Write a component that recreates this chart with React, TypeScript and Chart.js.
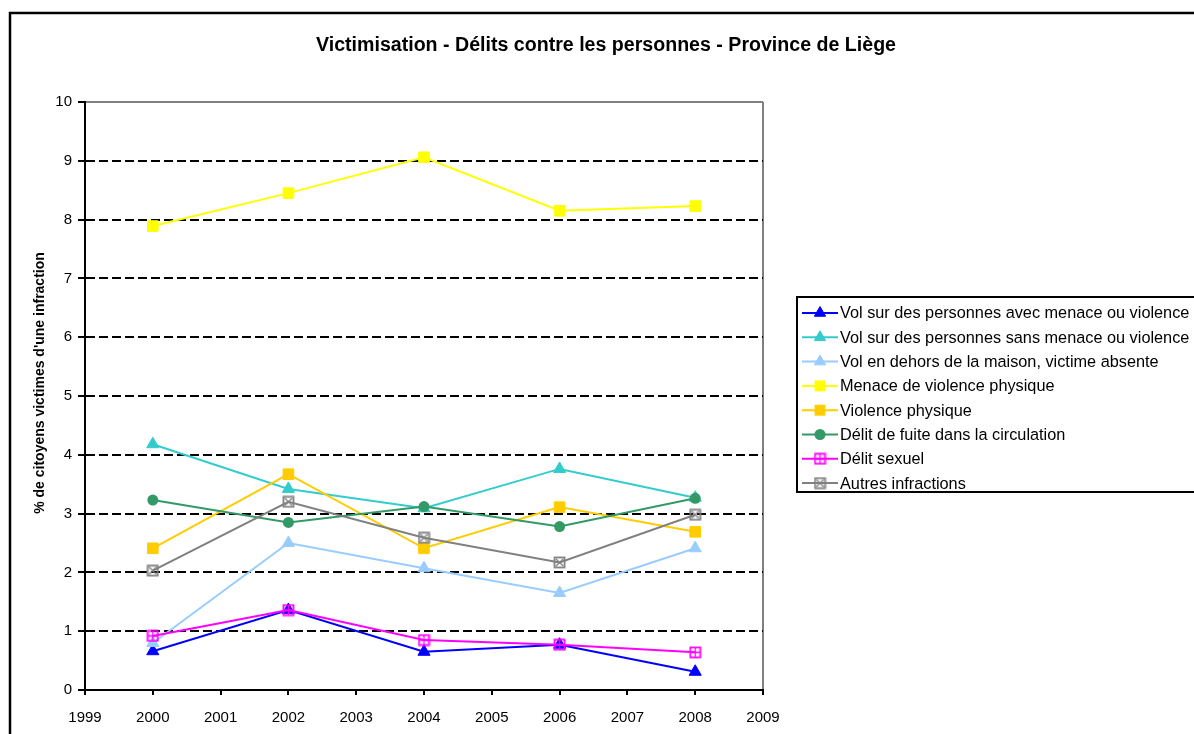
import React, { useEffect, useRef } from 'react';
import { Chart, registerables } from 'chart.js';

Chart.register(...registerables);

const years = [2000, 2002, 2004, 2006, 2008];
const volAvecMenace = [0.66, 1.36, 0.65, 0.77, 0.31];
const volSansMenace = [4.18, 3.42, 3.09, 3.76, 3.27];
const volDehors = [0.8, 2.5, 2.07, 1.65, 2.41];
const menaceViolence = [7.89, 8.45, 9.06, 8.15, 8.23];
const violencePhysique = [2.41, 3.67, 2.41, 3.11, 2.69];
const deliteFuite = [3.23, 2.85, 3.12, 2.78, 3.26];
const deliteSexuel = [0.92, 1.36, 0.85, 0.77, 0.64];
const autresInfractions = [2.03, 3.2, 2.59, 2.17, 2.98];

const seriesLabels = [
  'Vol sur des personnes avec menace ou violence',
  'Vol sur des personnes sans menace ou violence',
  'Vol en dehors de la maison, victime absente',
  'Menace de violence physique',
  'Violence physique',
  'Délit de fuite dans la circulation',
  'Délit sexuel',
  'Autres infractions',
];
const seriesValues = [
  volAvecMenace,
  volSansMenace,
  volDehors,
  menaceViolence,
  violencePhysique,
  deliteFuite,
  deliteSexuel,
  autresInfractions,
];
const seriesColors = ['#0000FF', '#33CCCC', '#99CCFF', '#FFFF00', '#FFCC00', '#339966', '#FF00FF', '#808080'];
const seriesMarkers = ['triangle', 'triangle', 'triangle', 'rect', 'rect', 'circle', 'squarePlus', 'squareX'];

const TITLE = 'Victimisation - Délits contre les personnes - Province de Liège';
const Y_TITLE = "% de citoyens victimes d'une infraction";
const X_MIN = 1999;
const X_MAX = 2009;
const Y_MIN = 0;
const Y_MAX = 10;

const FONT = '"Liberation Sans", Arial, sans-serif';

function makeHollowMarker(color: string, kind: 'plus' | 'x'): HTMLCanvasElement {
  const c = document.createElement('canvas');
  c.width = 13;
  c.height = 13;
  const g = c.getContext('2d')!;
  g.strokeStyle = color;
  g.lineWidth = 1.8;
  g.strokeRect(1.5, 1.5, 10, 10);
  g.lineWidth = 1.3;
  g.beginPath();
  if (kind === 'plus') {
    g.moveTo(6.5, 2);
    g.lineTo(6.5, 11);
    g.moveTo(2, 6.5);
    g.lineTo(11, 6.5);
  } else {
    g.moveTo(3, 3);
    g.lineTo(10, 10);
    g.moveTo(10, 3);
    g.lineTo(3, 10);
  }
  g.stroke();
  return c;
}

function drawLegendMarker(ctx: CanvasRenderingContext2D, style: any, color: string, x: number, y: number) {
  ctx.save();
  ctx.fillStyle = color;
  ctx.strokeStyle = color;
  ctx.lineWidth = 1;
  if (style instanceof HTMLCanvasElement) {
    ctx.drawImage(style, x - style.width / 2, y - style.height / 2);
  } else if (style === 'triangle') {
    const r = 6.5;
    ctx.beginPath();
    for (let k = 0; k < 3; k++) {
      const a = (k * 2 * Math.PI) / 3;
      const px = x + Math.sin(a) * r;
      const py = y - Math.cos(a) * r;
      if (k === 0) ctx.moveTo(px, py);
      else ctx.lineTo(px, py);
    }
    ctx.closePath();
    ctx.fill();
    ctx.stroke();
  } else if (style === 'rect') {
    const s = 7 / Math.SQRT2;
    ctx.fillRect(x - s, y - s, 2 * s, 2 * s);
    ctx.strokeRect(x - s, y - s, 2 * s, 2 * s);
  } else if (style === 'circle') {
    ctx.beginPath();
    ctx.arc(x, y, 5.5, 0, Math.PI * 2);
    ctx.fill();
  }
  ctx.restore();
}

export default function App() {
  const canvasRef = useRef<HTMLCanvasElement | null>(null);

  useEffect(() => {
    const canvas = canvasRef.current;
    if (!canvas) return;

    const pointStyles = seriesMarkers.map((m, i) => {
      if (m === 'squarePlus') return makeHollowMarker(seriesColors[i], 'plus');
      if (m === 'squareX') return makeHollowMarker(seriesColors[i], 'x');
      return m;
    });
    const pointRadii = seriesMarkers.map((m) => (m === 'triangle' ? 7 : m === 'rect' ? 7.5 : m === 'circle' ? 5.5 : 6.5));

    const datasets = seriesLabels.map((label, i) => ({
      label,
      data: years.map((yr, j) => ({ x: yr, y: seriesValues[i][j] })),
      borderColor: seriesColors[i],
      backgroundColor: seriesColors[i],
      borderWidth: 2,
      pointStyle: pointStyles[i] as any,
      pointRadius: pointRadii[i],
      pointBorderWidth: seriesMarkers[i] === 'circle' ? 0 : 1,
      pointBackgroundColor: seriesColors[i],
      pointBorderColor: seriesColors[i],
      tension: 0,
      order: seriesLabels.length - i,
    }));

    const decorPlugin = {
      id: 'decor',
      beforeDraw(chart: any) {
        const ctx = chart.ctx as CanvasRenderingContext2D;
        ctx.save();
        ctx.fillStyle = '#ffffff';
        ctx.fillRect(0, 0, chart.width, chart.height);
        ctx.restore();
      },
      afterDraw(chart: any) {
        const ctx = chart.ctx as CanvasRenderingContext2D;
        ctx.save();
        // outer chart border
        ctx.strokeStyle = '#000';
        ctx.lineWidth = 2.5;
        ctx.beginPath();
        ctx.moveTo(10, chart.height + 10);
        ctx.lineTo(10, 13);
        ctx.lineTo(chart.width + 10, 13);
        ctx.stroke();

        // title
        ctx.fillStyle = '#000';
        ctx.font = `bold 19.6px ${FONT}`;
        ctx.textAlign = 'left';
        ctx.textBaseline = 'middle';
        ctx.fillText(TITLE, 316, 46);

        // y axis title
        ctx.save();
        ctx.translate(40, 383);
        ctx.rotate(-Math.PI / 2);
        ctx.font = `bold 14px ${FONT}`;
        ctx.textAlign = 'center';
        ctx.textBaseline = 'middle';
        ctx.fillText(Y_TITLE, 0, 0);
        ctx.restore();

        // legend
        const lx = 797;
        const ly = 297;
        const rowH = 24.3;
        ctx.strokeStyle = '#000';
        ctx.lineWidth = 2;
        ctx.strokeRect(lx, ly, 520, 195);
        ctx.font = `16.3px ${FONT}`;
        ctx.textAlign = 'left';
        ctx.textBaseline = 'middle';
        seriesLabels.forEach((label, i) => {
          const y = ly + 16 + i * rowH;
          ctx.strokeStyle = seriesColors[i];
          ctx.lineWidth = 2;
          ctx.beginPath();
          ctx.moveTo(802, y);
          ctx.lineTo(838, y);
          ctx.stroke();
          drawLegendMarker(ctx, pointStyles[i], seriesColors[i], 820, y);
          ctx.fillStyle = '#000';
          ctx.fillText(label, 840, y + 1);
        });
        ctx.restore();
      },
    };

    const chart = new Chart(canvas, {
      type: 'line',
      data: { datasets: datasets as any },
      options: {
        animation: false,
        responsive: false,
        devicePixelRatio: 1,
        layout: { padding: { left: 20, right: 1194 - 763, top: 102, bottom: 0 } },
        plugins: {
          legend: { display: false },
          title: { display: false },
          tooltip: { enabled: false },
        },
        scales: {
          x: {
            type: 'linear',
            min: X_MIN,
            max: X_MAX,
            afterFit: (s: any) => {
              s.height = 44;
            },
            ticks: {
              stepSize: 1,
              color: '#000',
              padding: 14,
              font: { size: 15, family: FONT },
              callback: (v: any) => String(v),
              maxRotation: 0,
            },
            grid: {
              drawOnChartArea: true,
              color: (c: any) => (c.tick && c.tick.value === X_MAX ? '#808080' : 'rgba(0,0,0,0)'),
              lineWidth: 2,
              tickColor: '#000',
              tickLength: 5,
              tickWidth: 2,
            },
            border: { color: '#000', width: 2 },
          },
          y: {
            min: Y_MIN,
            max: Y_MAX,
            afterFit: (s: any) => {
              s.width = 65;
            },
            ticks: {
              stepSize: 1,
              color: '#000',
              padding: 6,
              font: { size: 15, family: FONT },
            },
            grid: {
              color: (c: any) =>
                c.tick && c.tick.value === Y_MAX ? '#808080' : c.tick && c.tick.value === Y_MIN ? 'rgba(0,0,0,0)' : '#000',
              lineWidth: 2,
              tickColor: '#000',
              tickLength: 7,
              tickWidth: 2,
            },
            border: {
              color: '#000',
              width: 2,
              dash: (c: any) => (c.tick && c.tick.value !== Y_MAX && c.tick.value !== Y_MIN ? [9, 4] : []),
            } as any,
          },
        },
      },
      plugins: [decorPlugin],
    });

    return () => chart.destroy();
  }, []);

  return (
    <div
      style={{
        position: 'fixed',
        left: 0,
        top: 0,
        width: 1194,
        height: 734,
        overflow: 'hidden',
        background: '#fff',
      }}
    >
      <canvas ref={canvasRef} width={1194} height={734} style={{ display: 'block' }} />
    </div>
  );
}
